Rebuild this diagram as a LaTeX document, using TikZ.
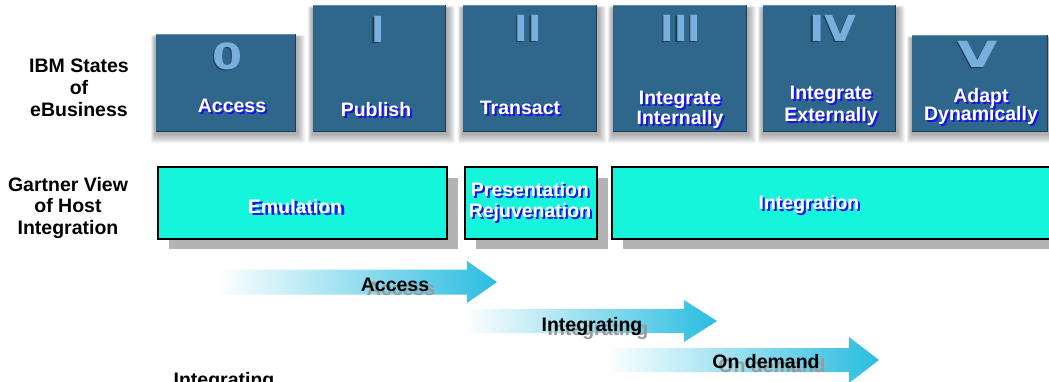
\documentclass[tikz,border=0pt]{standalone}
\usepackage{fontspec}
\setmainfont{Liberation Sans}
\newfontfamily\numfont{DejaVu Sans}
\definecolor{boxblue}{HTML}{2F668C}
\definecolor{boxdark}{HTML}{1C3C55}
\definecolor{boxlight}{HTML}{5C8DB3}
\definecolor{numblue}{HTML}{78AFDD}
\definecolor{numdark}{HTML}{1E3B52}
\definecolor{cyanfill}{HTML}{14F5DC}
\definecolor{graysh}{HTML}{B3B3B3}
\definecolor{arrowc}{HTML}{29BDE0}
\definecolor{txtblue}{HTML}{1A12E8}
\definecolor{shgray}{HTML}{9A9A9A}
\tikzset{
  lbl/.style={font=\fontsize{19.5}{22}\selectfont\bfseries, inner sep=0pt, anchor=base},
  numst/.style={font=\numfont\fontsize{36}{36}\selectfont\bfseries, inner sep=0pt},
  bluebox/.style={fill=boxblue, inner sep=0pt, anchor=north west},
  cyanbox/.style={fill=cyanfill, draw=black, line width=2pt, inner sep=0pt, anchor=north west},
  softshadow/.style={fill=black, fill opacity=0.045, rounded corners=2pt},
  flowarrow/.style={left color=white, right color=arrowc},
}
\newcommand\shtxt[7]{% name, x, y, text, fg, shadow colour, shift
  \node[lbl,text=#6,#7] (#1-sh) at (#2,#3) {#4};
  \node[lbl,text=#5] (#1) at (#2,#3) {#4};}
\newcommand\numeral[4]{% name, x, y, text
  \node[numst,text=numdark,xshift=-1.5pt,yshift=-1pt] (#1-sh) at (#2,#3) {#4};
  \node[numst,text=numblue] (#1) at (#2,#3) {#4};}
\newcommand\topbox[5]{% name x1 y1 x2 y2
  \foreach \k in {0,...,7}{\fill[softshadow] ({#2-1-0.6*\k},{#3+3-0.3*\k}) rectangle ({#4+2+\k},{#5+3+1.2*\k});}
  \node[bluebox,minimum width={#4-#2},minimum height={#5-#3}] (#1) at (#2,#3) {};
  \draw[boxdark,line width=1.5pt] ([xshift=-0.75pt]#1.north east) -- ([xshift=-0.75pt,yshift=0.75pt]#1.south east) -- ([yshift=0.75pt]#1.south west);
  \draw[boxlight,line width=1pt] ([yshift=-0.5pt]#1.north west) -- ([xshift=-1.5pt,yshift=-0.5pt]#1.north east);}
\newcommand\cbox[5]{% name x1 y1 x2 y2
  \fill[graysh] ({#2+12},{#3+12}) rectangle ({#4+12},{#5+11});
  \node[cyanbox,minimum width={#4-#2},minimum height={#5-#3}] (#1) at (#2,#3) {};}
\newcommand\flow[6]{% x1 xhead xtip ycentre halfbody halfhead
  \shade[flowarrow] (#1,{#4-#5}) -- (#2,{#4-#5}) -- (#2,{#4-#6}) -- (#3,#4) -- (#2,{#4+#6}) -- (#2,{#4+#5}) -- (#1,{#4+#5}) -- cycle;}
\begin{document}
\begin{tikzpicture}[x=1pt,y=-1pt]
\useasboundingbox (0,0) rectangle (1049,381);
\clip (0,0) rectangle (1049,381);
\fill[white] (0,0) rectangle (1049,381);

% left labels
\node[lbl] (ibm1) at (79,72) {IBM States};
\node[lbl] (ibm2) at (79,94) {of};
\node[lbl] (ibm3) at (79,116) {eBusiness};
\node[lbl] (gv1) at (68,191) {Gartner View};
\node[lbl] (gv2) at (68,212) {of Host};
\node[lbl] (gv3) at (68,234) {Integration};

% top boxes
\topbox{b0}{156}{34}{296}{132}
\topbox{b1}{313}{5}{446}{132}
\topbox{b2}{463}{5}{597}{132}
\topbox{b3}{613}{5}{747}{132}
\topbox{b4}{763}{5}{896}{132}
\topbox{b5}{912}{35}{1048}{132}

\numeral{n0}{228}{56}{\scalebox{1.2}[1]{0}}
\numeral{n1}{378}{29}{I}
\numeral{n2}{528}{28}{II}
\numeral{n3}{681}{28}{III}
\numeral{n4}{833}{28}{\scalebox{1.15}[1]{IV}}
\numeral{n5}{978}{54}{\scalebox{1.45}[1]{V}}

\shtxt{t0}{232}{112}{Access}{white}{txtblue}{xshift=2pt,yshift=-2pt}
\shtxt{t1}{376}{116}{Publish}{white}{txtblue}{xshift=2pt,yshift=-2pt}
\shtxt{t2}{520}{114}{Transact}{white}{txtblue}{xshift=2pt,yshift=-2pt}
\shtxt{t3a}{680}{104}{Integrate}{white}{txtblue}{xshift=2pt,yshift=-2pt}
\shtxt{t3b}{680}{124}{Internally}{white}{txtblue}{xshift=2pt,yshift=-2pt}
\shtxt{t4a}{831}{99}{Integrate}{white}{txtblue}{xshift=2pt,yshift=-2pt}
\shtxt{t4b}{831}{121}{Externally}{white}{txtblue}{xshift=2pt,yshift=-2pt}
\shtxt{t5a}{981}{102}{Adapt}{white}{txtblue}{xshift=2pt,yshift=-2pt}
\shtxt{t5b}{981}{120}{Dynamically}{white}{txtblue}{xshift=2pt,yshift=-2pt}

% Gartner boxes
\cbox{emu}{157}{166}{446}{238}
\cbox{pres}{464}{166}{596}{238}
\cbox{integ}{611}{166}{1060}{238}
\shtxt{temu}{295}{213}{Emulation}{white}{txtblue}{xshift=3.5pt,yshift=-2pt}
\shtxt{tpres1}{530}{196}{Presentation}{white}{txtblue}{xshift=2pt,yshift=-2pt}
\shtxt{tpres2}{530}{217}{Rejuvenation}{white}{txtblue}{xshift=2pt,yshift=-2pt}
\shtxt{tinteg}{809}{209}{Integration}{white}{txtblue}{xshift=2pt,yshift=-2pt}

% flow arrows
\flow{218}{467}{497}{282}{12.5}{21}
\flow{464}{684}{717}{321}{12}{21}
\flow{605}{849}{879}{360}{12}{23}
\shtxt{fa}{395}{291}{Access}{black}{shgray}{xshift=6pt,yshift=-4pt}
\shtxt{fi}{592}{331}{Integrating}{black}{shgray}{xshift=6pt,yshift=-4pt}
\shtxt{fd}{766}{368}{On demand}{black}{shgray}{xshift=6pt,yshift=-4pt}

\node[lbl] (bint) at (224,386) {Integrating};
\end{tikzpicture}
\end{document}
